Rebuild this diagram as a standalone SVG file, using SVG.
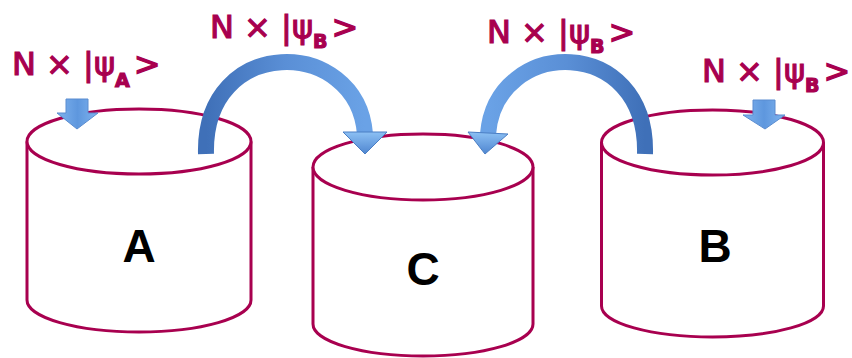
<svg xmlns="http://www.w3.org/2000/svg" width="852" height="358" viewBox="0 0 852 358">
  <style>
    .cyl { fill: #ffffff; stroke: #A8004F; stroke-width: 3; }
    .side { fill: none; stroke: #A8004F; stroke-width: 3; }
    .letter { font-family: "Liberation Sans", Arial, sans-serif; font-weight: bold; font-size: 46px; fill: #000000; text-anchor: middle; }
    .hand { font-family: "DejaVu Sans", sans-serif; font-size: 32px; fill: #A8004F; stroke: #A8004F; stroke-width: 1.2; }
    .sub { font-size: 19px; font-weight: bold; }
    .shaft { fill: none; stroke-width: 16; stroke-linecap: butt; }
  </style>
  <defs>
    <linearGradient id="gShaft1" x1="0" y1="0" x2="1" y2="0">
      <stop offset="0" stop-color="#3F70B8"/>
      <stop offset="0.5" stop-color="#5A8FD6"/>
      <stop offset="1" stop-color="#6AA2E6"/>
    </linearGradient>
    <linearGradient id="gShaft2" x1="1" y1="0" x2="0" y2="0">
      <stop offset="0" stop-color="#3F70B8"/>
      <stop offset="0.5" stop-color="#5A8FD6"/>
      <stop offset="1" stop-color="#6AA2E6"/>
    </linearGradient>
    <linearGradient id="gHead" x1="0" y1="0" x2="0" y2="1">
      <stop offset="0" stop-color="#8CC0F4"/>
      <stop offset="1" stop-color="#4F86D0"/>
    </linearGradient>
    <linearGradient id="gSmall" x1="0" y1="0" x2="1" y2="0">
      <stop offset="0" stop-color="#7FB3EE"/>
      <stop offset="0.5" stop-color="#5E97DE"/>
      <stop offset="1" stop-color="#7FB3EE"/>
    </linearGradient>
  </defs>

  <g id="cylA">
    <path class="side" d="M 27 141.5 L 27 300 A 112 32 0 0 0 251 300 L 251 141.5"/>
    <ellipse class="cyl" cx="139" cy="141.5" rx="112" ry="32.5"/>
    <text class="letter" x="139" y="262">A</text>
  </g>
  <g id="cylC">
    <path class="side" d="M 313 167 L 313 324 A 110 32 0 0 0 533 324 L 533 167"/>
    <ellipse class="cyl" cx="423" cy="167" rx="110" ry="33"/>
    <text class="letter" x="423" y="285">C</text>
  </g>
  <g id="cylB">
    <path class="side" d="M 601.5 142.5 L 601.5 306 A 111 31 0 0 0 823.5 306 L 823.5 142.5"/>
    <ellipse class="cyl" cx="712.5" cy="142.5" rx="111" ry="32.5"/>
    <text class="letter" x="715" y="262">B</text>
  </g>

  <g id="connectors">
    <g id="arrowAC">
      <path class="shaft" stroke="url(#gShaft1)" d="M 206 154 C 203 34, 357 36, 365 134"/>
      <polygon points="343,132 387,132 365,154" fill="url(#gHead)" stroke="#4A7EC4" stroke-width="1"/>
    </g>
    <g id="arrowBC">
      <path class="shaft" stroke="url(#gShaft2)" d="M 645 154 C 648 34, 496 36, 488 134"/>
      <polygon points="468,132 508,134 485,154" fill="url(#gHead)" stroke="#4A7EC4" stroke-width="1"/>
    </g>
    <g id="arrowInA">
      <polygon points="66,99 88,99 88,113 98,113 77,129 57,113 66,113" fill="url(#gSmall)" stroke="#5A8CD0" stroke-width="1"/>
    </g>
    <g id="arrowInB">
      <polygon points="753,100 775,100 775,115 785,115 765,129 743,115 753,115" fill="url(#gSmall)" stroke="#5A8CD0" stroke-width="1"/>
    </g>
  </g>

  <g id="labels">
    <text class="hand" x="12" y="75">N × |ψ<tspan class="sub" dy="12">A</tspan><tspan dy="-12" dx="4">&gt;</tspan></text>
    <text class="hand" x="210" y="38">N × |ψ<tspan class="sub" dy="10">B</tspan><tspan dy="-10" dx="4">&gt;</tspan></text>
    <text class="hand" x="487" y="43">N × |ψ<tspan class="sub" dy="10">B</tspan><tspan dy="-10" dx="4">&gt;</tspan></text>
    <text class="hand" x="702" y="82">N × |ψ<tspan class="sub" dy="10">B</tspan><tspan dy="-10" dx="4">&gt;</tspan></text>
  </g>
</svg>
